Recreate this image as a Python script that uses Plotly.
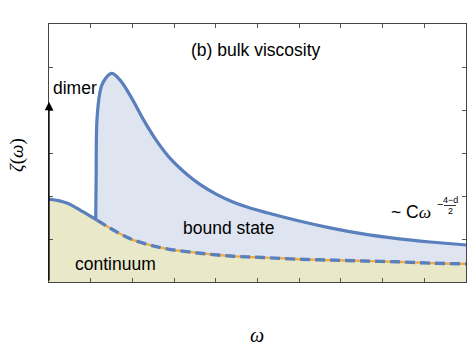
import plotly.graph_objects as go

# continuum (two-particle) contribution
cont_x = [0.0, 0.43, 0.82, 1.15, 1.63, 2.01, 2.42, 2.83, 3.62, 4.41, 5.13, 5.95, 6.74, 7.53, 8.35, 9.14, 10.0]
cont_y = [1.93, 1.84, 1.63, 1.44, 1.16, 0.98, 0.86, 0.77, 0.67, 0.60, 0.57, 0.53, 0.51, 0.49, 0.47, 0.44, 0.42]
split = 3  # index where dimer threshold sits

# dimer (bound state) total
dim_x = [1.12, 1.13, 1.15, 1.22, 1.29, 1.50, 1.70, 2.01, 2.25, 2.59, 2.90, 3.31, 3.62, 4.03, 4.41, 4.82, 5.23, 5.95, 6.74, 7.53, 8.35, 9.14, 10.0]
dim_y = [1.44, 2.37, 3.77, 4.40, 4.63, 4.85, 4.70, 4.23, 3.80, 3.27, 2.88, 2.50, 2.27, 2.03, 1.86, 1.72, 1.61, 1.43, 1.26, 1.12, 1.01, 0.93, 0.86]

blue = "#5a7fbd"
orange = "#f2a93b"
sm = 1.0

fig = go.Figure()
# continuum fill
fig.add_trace(go.Scatter(x=cont_x, y=cont_y, mode="lines", line=dict(width=0, shape="spline", smoothing=sm),
                         fill="tozeroy", fillcolor="#e9e8c9", hoverinfo="skip", showlegend=False))
# base for bound state fill
fig.add_trace(go.Scatter(x=cont_x[split:], y=cont_y[split:], mode="lines",
                         line=dict(width=0, shape="spline", smoothing=sm),
                         hoverinfo="skip", showlegend=False))
fig.add_trace(go.Scatter(x=dim_x, y=dim_y, mode="lines",
                         line=dict(color=blue, width=3.2, shape="spline", smoothing=sm),
                         fill="tonexty", fillcolor="#dee4f0", showlegend=False))
# continuum lines
fig.add_trace(go.Scatter(x=cont_x[:split + 1], y=cont_y[:split + 1], mode="lines",
                         line=dict(color=blue, width=3.2, shape="spline", smoothing=sm), showlegend=False))
fig.add_trace(go.Scatter(x=cont_x[split:], y=cont_y[split:], mode="lines",
                         line=dict(color=orange, width=2.2, shape="spline", smoothing=sm), showlegend=False))
fig.add_trace(go.Scatter(x=cont_x[split:], y=cont_y[split:], mode="lines",
                         line=dict(color=blue, width=3.4, dash="10px,5px", shape="spline", smoothing=sm),
                         showlegend=False))

axis_common = dict(showgrid=False, zeroline=False, showticklabels=False, ticks="inside",
                   ticklen=4, tickcolor="#555", showline=True, linecolor="#444", linewidth=1,
                   mirror="ticks")
fig.update_xaxes(range=[0, 10], dtick=1, **axis_common)
fig.update_yaxes(range=[0, 6], dtick=1, **axis_common)

sans = "Liberation Sans, Arial, sans-serif"
serif = "Liberation Serif, Times New Roman, serif"
fs = 17.5


def px(x):
    return (x - 49) / 417


def py(y):
    return (282 - y) / 258


def txt(x, y, text, size=fs, family=sans):
    fig.add_annotation(x=px(x), y=py(y), xref="paper", yref="paper", showarrow=False,
                       xanchor="center", yanchor="middle", text=text,
                       font=dict(family=family, size=size, color="black"))


txt(256, 50, "(b) bulk viscosity")
txt(75, 88, "dimer")
txt(228, 228, "bound state")
txt(115, 264, "continuum")
txt(411, 212, '~ C<i style="font-family:Liberation Serif, serif">ω</i>')
txt(440, 204, "−", size=11)
txt(450, 200, "4−d", size=9)
txt(450, 211, "2", size=9)
fig.add_shape(type="line", xref="paper", yref="paper",
              x0=px(444), x1=px(456), y0=py(205.5), y1=py(205.5), line=dict(color="black", width=0.8))

fig.add_annotation(x=0, y=4.19, ax=0, ay=0, xref="x", yref="y", axref="x", ayref="y",
                   showarrow=True, arrowhead=2, arrowsize=1.3, arrowwidth=1.3, arrowcolor="black", text="")
fig.add_annotation(xref="paper", yref="paper", x=px(17), y=py(155), xanchor="center", yanchor="middle",
                   text="<i>ζ</i>(<i>ω</i>)", textangle=-90, showarrow=False,
                   font=dict(family=serif, size=19, color="black"))
txt(257, 335, "<i>ω</i>", size=20, family=serif)

fig.update_layout(
    width=473, height=353,
    margin=dict(l=49, r=7, t=24, b=71),
    plot_bgcolor="white", paper_bgcolor="white",
)

fig.write_html("out.html")
